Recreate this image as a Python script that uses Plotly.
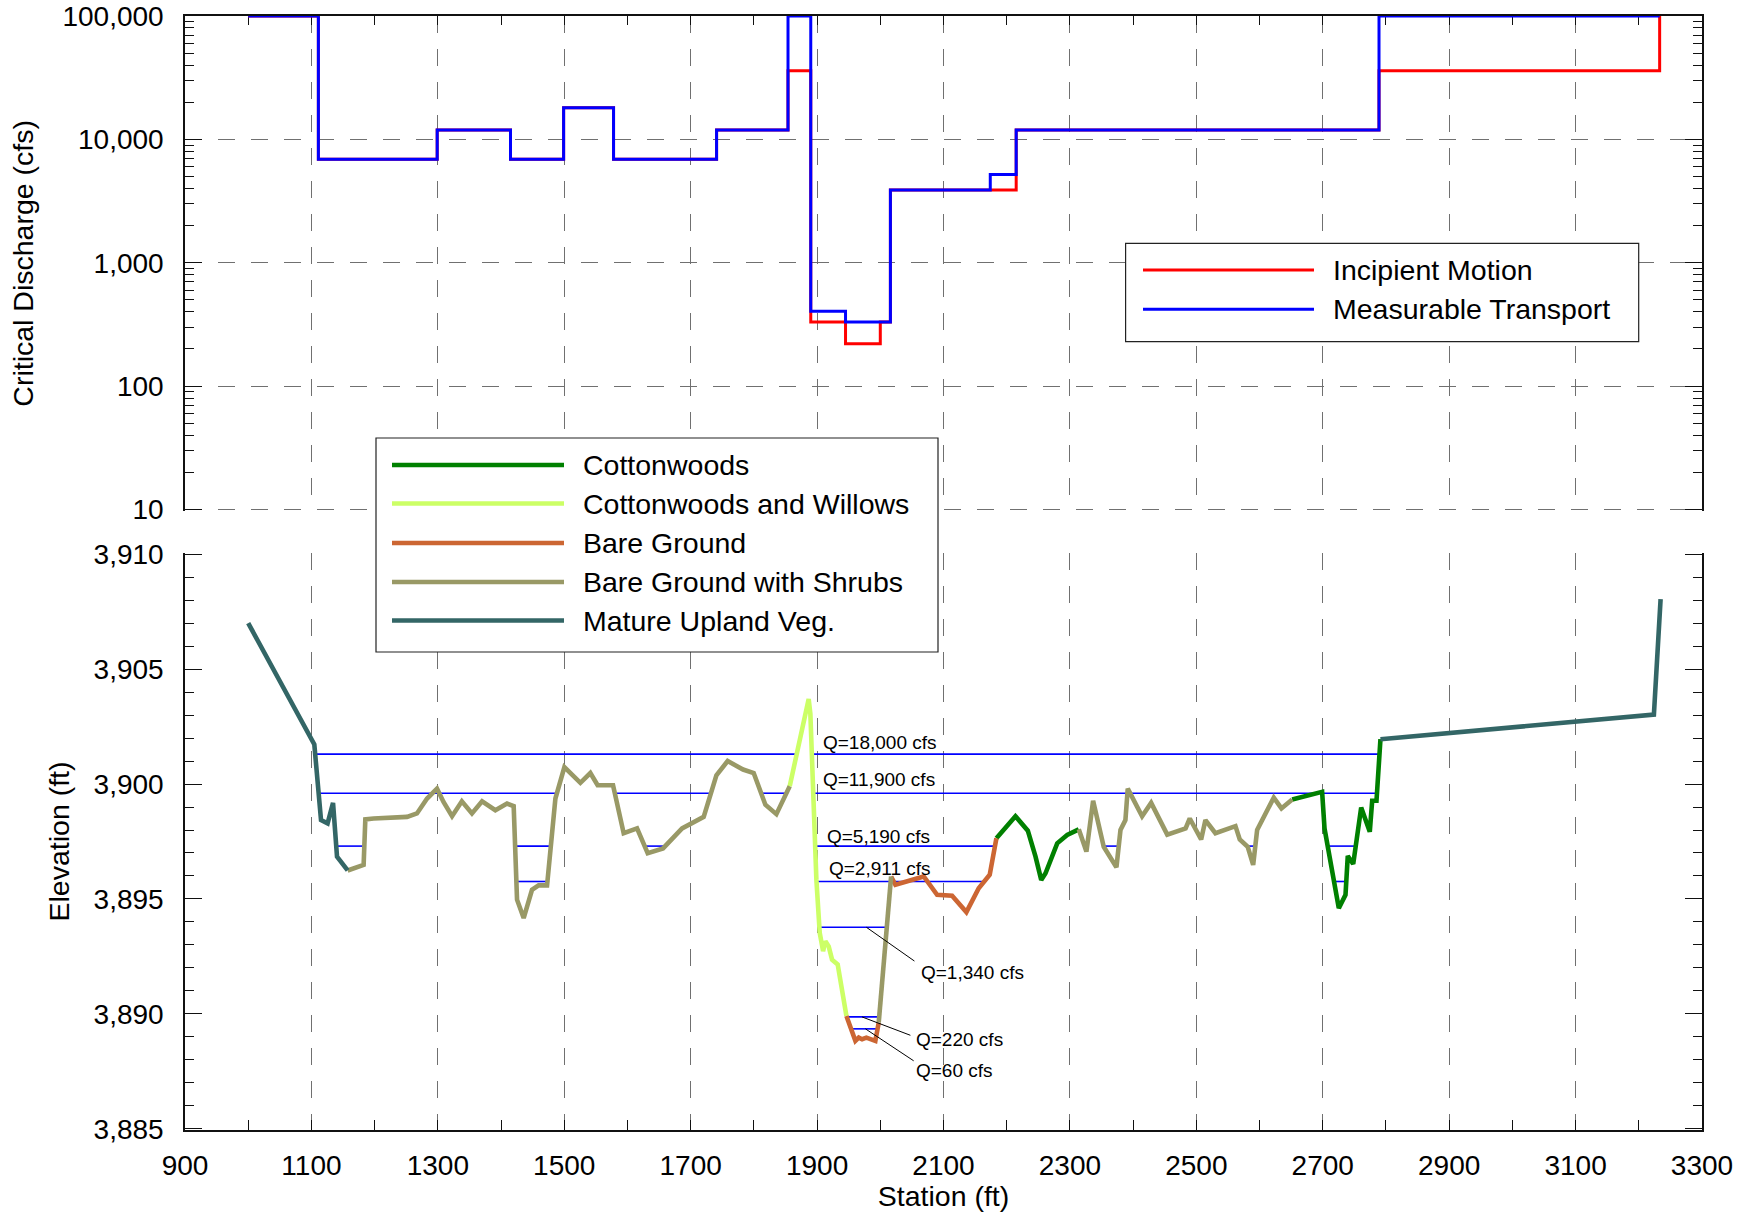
import plotly.graph_objects as go

# ---------------- Critical discharge (step profiles along the section) ----------------
transport_station = [1000, 1111, 1299, 1415, 1499, 1578, 1741, 1854, 1890, 1945, 2016, 2174, 2215, 2789, 3233]
transport_q = [100000, 6900, 11900, 6900, 18000, 6900, 11900, 100000, 404, 331, 3890, 5190, 11900, 100000, 100000]

motion_station = [1000, 1111, 1299, 1415, 1499, 1578, 1741, 1854, 1890, 1945, 2000, 2016, 2215, 2789, 3233, 3233]
motion_q = [100000, 6900, 11900, 6900, 18000, 6900, 11900, 36000, 331, 220, 331, 3890, 11900, 36000, 36000, 100000]

q_tickvals = [10, 100, 1000, 10000, 100000]
q_ticktext = ["10", "100", "1,000", "10,000", "100,000"]

# ---------------- Ground profile ----------------
ground_station = [
    1000, 1104.6, 1115.2, 1125.6, 1134.2, 1140.5, 1157.3, 1182.6, 1185.3, 1198.4,
    1251.3, 1267, 1283, 1298.7, 1309, 1322.5, 1338, 1354, 1370, 1391,
    1409.5, 1420, 1425.3, 1435.8, 1449, 1459.5, 1472.8, 1486, 1500.2, 1525.5,
    1541.3, 1552.8, 1577.2, 1594, 1615.2, 1632, 1656.3, 1686.4, 1720.6, 1740.7,
    1758.5, 1782.9, 1799.7, 1818.2, 1835.6, 1856.7, 1886.7, 1889.4, 1894.6, 1898.9,
    1904.2, 1909.5, 1913.2, 1918.4, 1923.7, 1932.6, 1946.4, 1960.6, 1965.9, 1971.2,
    1978, 1984.3, 1992.2, 1997.5, 2017.1, 2023.9, 2068.7, 2089.9, 2113.6, 2136.2,
    2155.7, 2173.1, 2183.7, 2213.8, 2233.4, 2245.6, 2254.6, 2261.4, 2279.9, 2295.7,
    2314, 2326.1, 2336.7, 2353.5, 2373.6, 2380, 2387.8, 2391.5, 2414.2, 2428.5,
    2454, 2483, 2489.6, 2507.6, 2514.4, 2530.2, 2561.9, 2568.7, 2581.3, 2589.9,
    2596.2, 2622.5, 2634.7, 2651.6, 2699, 2702.8, 2725.4, 2736, 2739.6, 2748.2,
    2760.8, 2774.4, 2778.2, 2785, 2791.3, 3223.9, 3234.5,
]
ground_elev = [
    3907.0, 3901.72, 3898.43, 3898.29, 3899.18, 3896.84, 3896.24, 3896.48, 3898.46, 3898.5,
    3898.57, 3898.72, 3899.37, 3899.8, 3899.22, 3898.6, 3899.25, 3898.72, 3899.25, 3898.86,
    3899.15, 3899.04, 3894.97, 3894.17, 3895.4, 3895.59, 3895.59, 3899.37, 3900.74, 3900.05,
    3900.48, 3899.95, 3899.95, 3897.86, 3898.07, 3896.99, 3897.2, 3898.07, 3898.57, 3900.38,
    3901.0, 3900.63, 3900.48, 3899.1, 3898.69, 3899.9, 3903.7, 3903.05, 3898.72, 3895.83,
    3893.52, 3892.73, 3893.16, 3892.94, 3892.36, 3892.15, 3889.91, 3888.83, 3888.97, 3888.9,
    3888.97, 3888.93, 3888.83, 3889.62, 3895.98, 3895.62, 3895.98, 3895.18, 3895.14, 3894.43,
    3895.47, 3896.05, 3897.64, 3898.6, 3897.97, 3896.84, 3895.83, 3896.12, 3897.42, 3897.78,
    3898.03, 3897.06, 3899.27, 3897.27, 3896.38, 3898.0, 3898.43, 3899.8, 3898.6, 3899.18,
    3897.8, 3898.07, 3898.5, 3897.59, 3898.43, 3897.86, 3898.17, 3897.59, 3897.27, 3896.48,
    3898.0, 3899.41, 3898.94, 3899.33, 3899.66, 3898.07, 3894.6, 3895.18, 3896.87, 3896.52,
    3898.98, 3897.92, 3899.27, 3899.27, 3901.95, 3903.02, 3908.04,
]

# Vegetation / cover class for each reach of the profile (start station, end station)
cover_runs = [
    ("Mature Upland Veg.", 1000, 1157.3),
    ("Bare Ground with Shrubs", 1157.3, 1856.7),
    ("Cottonwoods and Willows", 1856.7, 1946.4),
    ("Bare Ground", 1946.4, 1997.5),
    ("Bare Ground with Shrubs", 1997.5, 2017.1),
    ("Bare Ground", 2017.1, 2183.7),
    ("Cottonwoods", 2183.7, 2314),
    ("Bare Ground with Shrubs", 2314, 2651.6),
    ("Cottonwoods", 2651.6, 2791.3),
    ("Mature Upland Veg.", 2791.3, 3234.5),
]

cover_classes = ["Cottonwoods", "Cottonwoods and Willows", "Bare Ground",
                 "Bare Ground with Shrubs", "Mature Upland Veg."]
cover_colors = {
    "Cottonwoods": "#008000",
    "Cottonwoods and Willows": "#CCFF66",
    "Bare Ground": "#CC6633",
    "Bare Ground with Shrubs": "#999966",
    "Mature Upland Veg.": "#336666",
}

# ---------------- Water surfaces for each discharge ----------------
water_label = ["Q=18,000 cfs", "Q=11,900 cfs", "Q=5,190 cfs", "Q=2,911 cfs",
               "Q=1,340 cfs", "Q=220 cfs", "Q=60 cfs"]
water_level = [3901.3, 3899.6, 3897.3, 3895.76, 3893.77, 3889.87, 3889.35]
water_spans = [
    [(1106, 1868), (1891.5, 2790)],
    [(1111.4, 1488.4), (1580, 1732), (1812, 1852), (1893.5, 2785.5)],
    [(1139.3, 1183.6), (1422.3, 1478.8), (1627.2, 1659.8), (1896.7, 2181.4),
     (2353, 2377), (2580, 2593), (2708, 2752)],
    [(1424.3, 1473.4), (1899, 2163), (2718, 2737)],
    [(1903.6, 2010.3)],
    [(1947, 1998.3)],
    [(1953.8, 1995.7)],
]

station_ticks = list(range(900, 3301, 200))
elev_ticks = list(range(3885, 3911, 5))

# ---------------- Figure geometry ----------------
W, H = 1754, 1212
ML, MR, MT, MB = 185, 52, 16, 82
PW, PH = W - ML - MR, H - MT - MB
FONT = "Liberation Sans, Arial, sans-serif"


def px(xp):
    return (xp - ML) / PW


def py(yp):
    return (H - MB - yp) / PH


fig = go.Figure()

# water surface lines
wx, wy = [], []
for level, spans in zip(water_level, water_spans):
    for a, b in spans:
        wx += [a, b, None]
        wy += [level, level, None]
fig.add_trace(go.Scatter(x=wx, y=wy, mode="lines", line=dict(color="#0000FF", width=1.6),
                         xaxis="x", yaxis="y", hoverinfo="skip", showlegend=False))

# ground profile coloured by cover class
for cls in cover_classes:
    gx, gy = [], []
    for name, s0, s1 in cover_runs:
        if name != cls:
            continue
        for s, e in zip(ground_station, ground_elev):
            if s0 <= s <= s1:
                gx.append(s)
                gy.append(e)
        gx.append(None)
        gy.append(None)
    fig.add_trace(go.Scatter(x=gx, y=gy, mode="lines", name=cls,
                             line=dict(color=cover_colors[cls], width=4.6),
                             xaxis="x", yaxis="y", showlegend=False))

# critical discharge step lines
fig.add_trace(go.Scatter(x=motion_station, y=motion_q, mode="lines", name="Incipient Motion",
                         line=dict(color="#FF0000", width=3, shape="hv"),
                         xaxis="x2", yaxis="y2", showlegend=False))
fig.add_trace(go.Scatter(x=transport_station, y=transport_q, mode="lines", name="Measurable Transport",
                         line=dict(color="#0000FF", width=3, shape="hv"),
                         xaxis="x2", yaxis="y2", showlegend=False))

grid = dict(showgrid=True, gridcolor="#707070", gridwidth=1.1, griddash="17px,16px")
axline = dict(showline=True, linecolor="#111111", linewidth=1.5, zeroline=False,
              tickcolor="#111111", tickwidth=1.3, ticks="inside", automargin=False)
tickfont = dict(family=FONT, size=28, color="#000000")
titlefont = dict(family=FONT, size=28.5, color="#000000")

top_bottom = 1 - (510.7 - MT) / PH
low_top = 1 - (553 - MT) / PH

fig.update_layout(
    width=W, height=H,
    margin=dict(l=ML, r=MR, t=MT, b=MB, autoexpand=False),
    paper_bgcolor="white", plot_bgcolor="white",
    font=dict(family=FONT, color="#000000"),
    xaxis=dict(domain=[0, 1], range=[900, 3300], anchor="y",
               tickvals=station_ticks, ticktext=[str(v) for v in station_ticks],
               ticklen=10, tickfont=tickfont, ticklabelstandoff=10,
               minor=dict(dtick=100, tick0=900, ticks="inside", ticklen=10,
                          tickwidth=1.3, tickcolor="#111111", showgrid=False),
               title=dict(text="Station (ft)", font=titlefont, standoff=1),
               **axline, **grid),
    yaxis=dict(domain=[0, low_top], range=[3884.95, 3910.05], anchor="x",
               tickvals=elev_ticks, ticktext=[f"{v:,}" for v in elev_ticks],
               ticklen=17, mirror="ticks", tickfont=tickfont, ticklabelstandoff=14,
               minor=dict(dtick=1, tick0=3885, ticks="inside", ticklen=9,
                          tickwidth=1.3, tickcolor="#111111", showgrid=False),
               showgrid=False,
               title=dict(text="Elevation (ft)", font=titlefont, standoff=16),
               **axline),
    xaxis2=dict(domain=[0, 1], range=[900, 3300], anchor="y2", matches="x", side="top",
                tickvals=station_ticks, showticklabels=False, ticklen=9,
                minor=dict(dtick=100, tick0=900, ticks="inside", ticklen=9,
                           tickwidth=1.3, tickcolor="#111111", showgrid=False),
                layer="below traces", **axline, **grid),
    yaxis2=dict(domain=[top_bottom, 1], type="log", range=[0.99, 5], anchor="x2",
                tickvals=q_tickvals, ticktext=q_ticktext, ticklen=17, mirror="ticks",
                tickfont=tickfont, ticklabelstandoff=14,
                minor=dict(tickvals=[m * 10 ** k for k in range(1, 5) for m in range(2, 10)],
                           ticks="inside", ticklen=9, tickwidth=1.3, tickcolor="#111111",
                           showgrid=False),
                title=dict(text="Critical Discharge (cfs)", font=titlefont, standoff=20),
                layer="below traces", **axline, **grid),
)

shapes = []
annotations = []

# discharge labels and leader lines on the cross-section
label_pos = [(1906, 3901.82), (1906, 3900.2), (1913, 3897.71), (1915, 3896.34),
             (2062, 3891.8), (2054, 3888.9), (2054, 3887.53)]
leader_pos = {4: ((1978, 2054), 3892.3), 5: ((1971, 2047.6), 3889.07), 6: ((1976.5, 2052.8), 3887.96)}
for i, (text, (lx, ly)) in enumerate(zip(water_label, label_pos)):
    annotations.append(dict(x=lx, y=ly, xref="x", yref="y", text=text, showarrow=False,
                            xanchor="left", yanchor="middle",
                            font=dict(family=FONT, size=19, color="#000000")))
    if i in leader_pos:
        (x0, x1), y1 = leader_pos[i]
        shapes.append(dict(type="line", xref="x", yref="y", x0=x0, y0=water_level[i], x1=x1, y1=y1,
                           line=dict(color="#000000", width=1)))


def legend_block(box, rows, sample_x, text_x, entries, lw):
    x0, y0, x1, y1 = box
    shapes.append(dict(type="rect", xref="paper", yref="paper", layer="above",
                       x0=px(x0), x1=px(x1), y0=py(y0), y1=py(y1),
                       fillcolor="white", line=dict(color="#222222", width=1.2)))
    for (label, color), yr in zip(entries, rows):
        shapes.append(dict(type="line", xref="paper", yref="paper", layer="above",
                           x0=px(sample_x[0]), x1=px(sample_x[1]), y0=py(yr), y1=py(yr),
                           line=dict(color=color, width=lw)))
        annotations.append(dict(x=px(text_x), y=py(yr), xref="paper", yref="paper",
                                text=label, showarrow=False, xanchor="left", yanchor="middle",
                                font=dict(family=FONT, size=28.5, color="#000000")))


legend_block((1125.6, 243.3, 1638.7, 341.7), [270, 309.3], (1143, 1314), 1331,
             [("Incipient Motion", "#FF0000"), ("Measurable Transport", "#0000FF")], 3)
legend_block((376, 438, 938, 652), [465, 503.5, 543, 582, 620.6], (392, 564), 581,
             [(c, cover_colors[c]) for c in cover_classes], 4.5)

fig.update_layout(shapes=shapes, annotations=annotations)
fig.write_html("out.html")
